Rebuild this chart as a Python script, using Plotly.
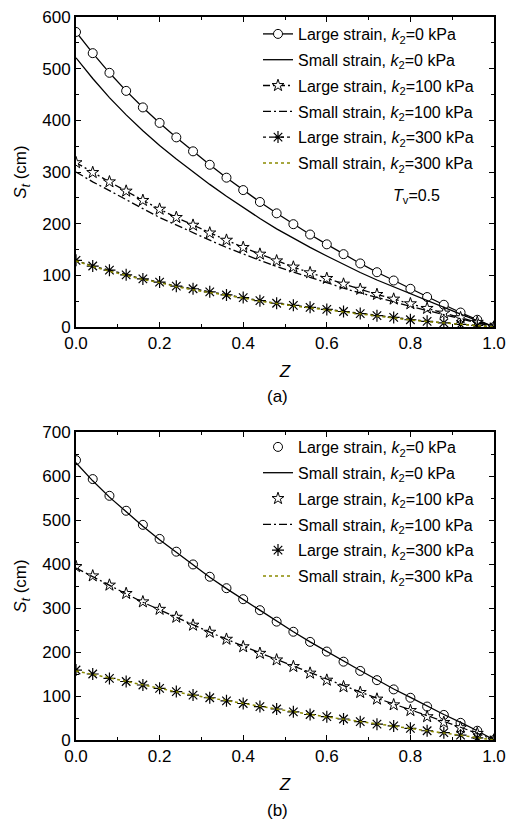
import plotly.graph_objects as go

W, H = 506, 823

z = [round(0.04 * i, 2) for i in range(26)]

# Panel (a)
a_large_0 = [571, 530, 492, 457, 425, 395, 367, 340, 314, 289, 265, 242, 220, 199, 179, 160, 141, 123, 106, 90, 74, 58, 43, 28, 14, 0]
a_small_0 = [521, 481, 444, 410.5, 380, 351.5, 325, 300, 276, 253, 231, 210, 190, 171.5, 154, 137.5, 121, 105.5, 91, 77.5, 64, 50.5, 38, 25, 12.5, 0]
a_large_100 = [318, 299, 281, 263, 245, 228, 212, 197, 182, 168, 154, 141, 128, 116, 105, 94, 83, 73, 63, 54, 45, 36, 27, 18, 9, 0]
a_small_100 = [300, 281, 264, 246, 229, 212, 197, 182, 168, 154, 141, 129, 117, 106, 96, 86, 75, 66, 57, 48, 40, 32, 24, 16, 8, 0]
a_large_300 = [129, 118, 110, 101, 93, 87, 79, 74, 68, 62, 57, 51, 46, 42, 38, 34, 30, 26, 22, 18.5, 14, 11, 8, 5, 3, 0]
a_small_300 = [128, 117, 108, 100, 92, 86, 78, 72, 67, 61, 56, 50, 45, 41, 37, 33, 29, 25, 21, 17.5, 13.5, 10.5, 7.5, 4.5, 2.5, 0]

# Panel (b)
b_large_0 = [636, 593, 555, 521, 489, 457, 428, 399, 371, 345, 320, 295, 269, 246, 223, 201, 178, 157, 136, 115, 96, 76, 57, 39, 21, 0]
b_small_0 = [630, 589, 552, 518, 486, 455, 426, 397, 370, 344, 319, 294, 269, 246, 223, 201, 179, 158, 137, 116, 97, 77, 58, 40, 21, 0]
b_large_100 = [394, 373, 352, 333, 314, 297, 279, 261, 245, 229, 212, 197, 182, 167, 152, 136, 121, 108, 93, 80, 67, 53, 40, 28, 15, 0]
b_small_100 = [391, 371, 351, 332, 313, 296, 278, 261, 245, 229, 213, 198, 183, 168, 153, 138, 123, 109, 95, 82, 68, 55, 42, 29, 15, 0]
b_large_300 = [159, 150, 140, 133, 125, 117.5, 110, 102, 96, 89, 83, 76, 70.5, 64, 58, 53, 47.7, 41.6, 36, 32, 26.5, 21, 16.6, 11, 5, 0]
b_small_300 = [157, 149, 140, 132, 124, 117, 109.5, 102, 95.5, 89, 82.5, 76, 70, 64, 58, 52.5, 47, 41.5, 36, 31.5, 26.5, 21, 16, 11, 5.5, 0]

names = [
    "Large strain, <i>k</i><sub>2</sub>=0 kPa",
    "Small strain, <i>k</i><sub>2</sub>=0 kPa",
    "Large strain, <i>k</i><sub>2</sub>=100 kPa",
    "Small strain, <i>k</i><sub>2</sub>=100 kPa",
    "Large strain, <i>k</i><sub>2</sub>=300 kPa",
    "Small strain, <i>k</i><sub>2</sub>=300 kPa",
]

FONT = "Arial, Liberation Sans, sans-serif"
OLIVE = "#8a8a00"
DASH_STAR = "7px,3px,2px,3px"
DASH_DOT = "8px,3px,2px,3px"

fig = go.Figure()

def add_panel(xa, ya, leg, data, lines_for_large):
    L0, S0, L1, S1, L3, S3 = data
    mode_l = "lines+markers" if lines_for_large else "markers"
    common = dict(xaxis=xa, yaxis=ya, legend=leg)
    fig.add_trace(go.Scatter(x=z, y=L0, mode=mode_l, name=names[0], legendgroup=leg + "0", **common,
                             line=dict(color="black", width=1.3),
                             marker=dict(symbol="circle", size=9, color="white", line=dict(color="black", width=1))))
    fig.add_trace(go.Scatter(x=z, y=S0, mode="lines", name=names[1], legendgroup=leg + "1", **common,
                             line=dict(color="black", width=1.3)))
    fig.add_trace(go.Scatter(x=z, y=L1, mode=mode_l, name=names[2], legendgroup=leg + "2", **common,
                             line=dict(color="black", width=1.3, dash=DASH_STAR),
                             marker=dict(symbol="star", size=9, color="white", line=dict(color="black", width=1))))
    fig.add_trace(go.Scatter(x=z, y=S1, mode="lines", name=names[3], legendgroup=leg + "3", **common,
                             line=dict(color="black", width=1.3, dash=DASH_DOT)))
    fig.add_trace(go.Scatter(x=z, y=L3, mode=mode_l, name=names[4], legendgroup=leg + "4", **common,
                             line=dict(color="black", width=1.3, dash="dot"),
                             marker=dict(symbol="asterisk-open", size=10, color="black", line=dict(color="black", width=1.2))))
    fig.add_trace(go.Scatter(x=z, y=S3, mode="lines", name=names[5], legendgroup=leg + "5", **common,
                             line=dict(color=OLIVE, width=1.5, dash="dot")))

add_panel("x", "y", "legend", [a_large_0, a_small_0, a_large_100, a_small_100, a_large_300, a_small_300], True)
add_panel("x2", "y2", "legend2", [b_large_0, b_small_0, b_large_100, b_small_100, b_large_300, b_small_300], False)

def px_x(p):
    return p / W

def px_y(p):
    return 1 - p / H

xdom = [px_x(76), px_x(494)]
ya_dom = [px_y(327), px_y(17)]
yb_dom = [px_y(740), px_y(432)]

axis_common = dict(
    showline=True, linecolor="black", linewidth=2, mirror="ticks",
    ticks="inside", ticklen=5, tickwidth=1, tickcolor="black",
    showgrid=False, zeroline=False, automargin=False,
    tickfont=dict(family=FONT, size=17, color="black"),
)

xaxis_cfg = dict(axis_common, range=[0, 1], dtick=0.2, tick0=0, tickformat=".1f",
                 minor=dict(ticks="inside", ticklen=3, dtick=0.1, tickcolor="black", tickwidth=1),
                 title=dict(text="<i>Z</i>", font=dict(family=FONT, size=17, color="black"), standoff=13))

ytitle = dict(text="<i>S</i><sub><i>t</i></sub> (cm)", font=dict(family=FONT, size=17, color="black"), standoff=11)

leg_common = dict(xanchor="left", yanchor="top", bgcolor="rgba(0,0,0,0)", borderwidth=0,
                  traceorder="grouped", tracegroupgap=2,
                  font=dict(family=FONT, size=16, color="black"), itemwidth=30)

fig.update_layout(
    width=W, height=H,
    margin=dict(l=0, r=0, t=0, b=0),
    paper_bgcolor="white", plot_bgcolor="white",
    font=dict(family=FONT, color="black"),
    xaxis=dict(xaxis_cfg, domain=xdom, anchor="y"),
    yaxis=dict(axis_common, domain=ya_dom, anchor="x", range=[0, 600], dtick=100,
               minor=dict(ticks="inside", ticklen=3, dtick=50, tickcolor="black", tickwidth=1),
               title=ytitle),
    xaxis2=dict(xaxis_cfg, domain=xdom, anchor="y2"),
    yaxis2=dict(axis_common, domain=yb_dom, anchor="x2", range=[0, 700], dtick=100,
                minor=dict(ticks="inside", ticklen=3, dtick=50, tickcolor="black", tickwidth=1),
                title=ytitle),
    legend=dict(leg_common, x=px_x(258), y=px_y(17)),
    legend2=dict(leg_common, x=px_x(258), y=px_y(430)),
    annotations=[
        dict(text="<i>T</i><sub>v</sub>=0.5", x=px_x(391), y=px_y(197), xref="paper", yref="paper",
             xanchor="left", yanchor="middle", showarrow=False,
             font=dict(family=FONT, size=16, color="black")),
        dict(text="(a)", x=px_x(277), y=px_y(396), xref="paper", yref="paper",
             xanchor="center", yanchor="middle", showarrow=False,
             font=dict(family=FONT, size=17, color="black")),
        dict(text="(b)", x=px_x(277), y=px_y(810), xref="paper", yref="paper",
             xanchor="center", yanchor="middle", showarrow=False,
             font=dict(family=FONT, size=17, color="black")),
    ],
)

fig.write_html("out.html")
